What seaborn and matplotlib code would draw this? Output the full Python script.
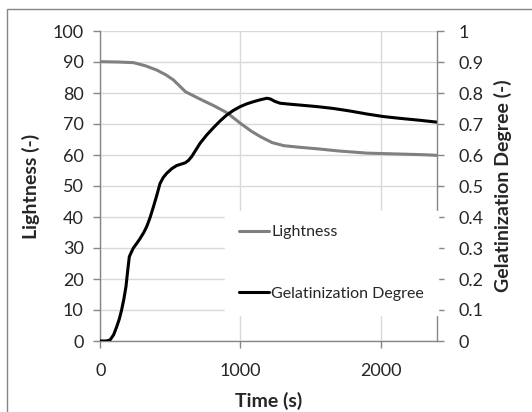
import numpy as np
import pandas as pd
import matplotlib
matplotlib.use('Agg')
import matplotlib.pyplot as plt
import seaborn as sns
from matplotlib.patches import Rectangle

# data
time_light = [0, 120, 236, 320, 403, 470, 522, 608, 713, 810, 905, 1000, 1080,
              1143, 1226, 1310, 1420, 1548, 1700, 1905, 2143, 2300, 2400]
lightness = [90.1, 90.0, 89.8, 88.8, 87.4, 85.8, 84.2, 80.4, 78.0, 75.9, 73.6, 70.2, 67.6,
             65.9, 64.0, 63.0, 62.5, 62.0, 61.3, 60.6, 60.3, 60.1, 59.9]

time_gel = [0, 40, 69, 95, 117, 135, 152, 168, 183, 195, 207, 220, 236, 260, 283, 310,
            331, 355, 379, 403, 426, 450, 474, 510, 545, 580, 607, 630, 652, 680, 712,
            760, 807, 855, 902, 950, 998, 1045, 1093, 1140, 1188, 1212, 1245, 1283, 1350,
            1426, 1550, 1664, 1780, 1905, 2020, 2143, 2280, 2402]
gel_degree = [0.0, 0.0, 0.003, 0.02, 0.046, 0.07, 0.10, 0.135, 0.175, 0.225, 0.272, 0.285,
              0.30, 0.315, 0.33, 0.35, 0.369, 0.398, 0.433, 0.47, 0.508, 0.528, 0.541,
              0.556, 0.566, 0.571, 0.575, 0.583, 0.595, 0.615, 0.638, 0.665, 0.688, 0.71,
              0.729, 0.744, 0.756, 0.765, 0.772, 0.778, 0.783, 0.781, 0.773, 0.767, 0.764,
              0.761, 0.756, 0.75, 0.742, 0.732, 0.724, 0.718, 0.712, 0.706]

df_light = pd.DataFrame({'time': time_light, 'value': lightness})
df_gel = pd.DataFrame({'time': time_gel, 'value': gel_degree})

sns.set_style('white')
plt.rcParams['font.family'] = ['Lato', 'DejaVu Sans']

grid_c = '#d9d9d9'
spine_c = '#868686'

fig = plt.figure(figsize=(5.32, 4.12), dpi=100)
ax = fig.add_axes([100.3 / 532, 71 / 412, 336.4 / 532, 310 / 412])
ax2 = ax.twinx()

sns.lineplot(data=df_light, x='time', y='value', ax=ax, color='#808080', lw=2.2,
             label='Lightness', legend=False)
sns.lineplot(data=df_gel, x='time', y='value', ax=ax2, color='black', lw=2.2,
             label='Gelatinization Degree', legend=False)

ax.set_xlim(0, 2400)
ax.set_ylim(0, 100)
ax2.set_ylim(0, 1)
ax.set_xticks([0, 1000, 2000])
ax.set_yticks(np.arange(0, 101, 10))
ax2.set_yticks(np.arange(0, 1.01, 0.1))
ax2.set_yticklabels(['0'] + ['%.1f' % v for v in np.arange(0.1, 0.95, 0.1)] + ['1'])

ax.grid(True, color=grid_c, lw=1)
ax.set_axisbelow(True)
for a in (ax, ax2):
    for s in a.spines.values():
        s.set_visible(False)
ax.spines['left'].set_visible(True)
ax.spines['bottom'].set_visible(True)
ax2.spines['right'].set_visible(True)
for s in (ax.spines['left'], ax.spines['bottom'], ax2.spines['right']):
    s.set_color(spine_c)
    s.set_linewidth(1)

ax.tick_params(axis='y', direction='out', length=5, color=spine_c, width=1,
               labelsize=13, pad=7, left=True)
ax.tick_params(axis='x', direction='out', length=5, color=spine_c, width=1,
               labelsize=13, pad=11, bottom=True)
ax2.tick_params(axis='y', direction='out', length=5, color=spine_c, width=1,
                labelsize=13, pad=11, right=True)

ax.set_xlabel('Time (s)', fontsize=14, fontweight='bold', labelpad=9)
ax.set_ylabel('Lightness (-)', fontsize=14, fontweight='bold', labelpad=9)
ax2.set_ylabel('Gelatinization Degree (-)', fontsize=14, fontweight='bold', labelpad=7)

h1, l1 = ax.get_legend_handles_labels()
h2, l2 = ax2.get_legend_handles_labels()
leg = ax2.legend(h1 + h2, l1 + l2, loc='upper left', bbox_to_anchor=(0.37, 0.42),
                 frameon=True, fontsize=11.5, handlelength=1.9, handletextpad=0.1,
                 labelspacing=2.95, borderpad=0.9, borderaxespad=0, fancybox=False)
leg.get_frame().set_edgecolor('white')
leg.get_frame().set_facecolor('white')
leg.get_frame().set_alpha(1)

fig.patches.append(Rectangle((7 / 532, -0.1), 1.2, (412 - 9) / 412 + 0.1,
                             transform=fig.transFigure, fill=False,
                             edgecolor=spine_c, lw=1))

fig.savefig('out.png', dpi=100)
